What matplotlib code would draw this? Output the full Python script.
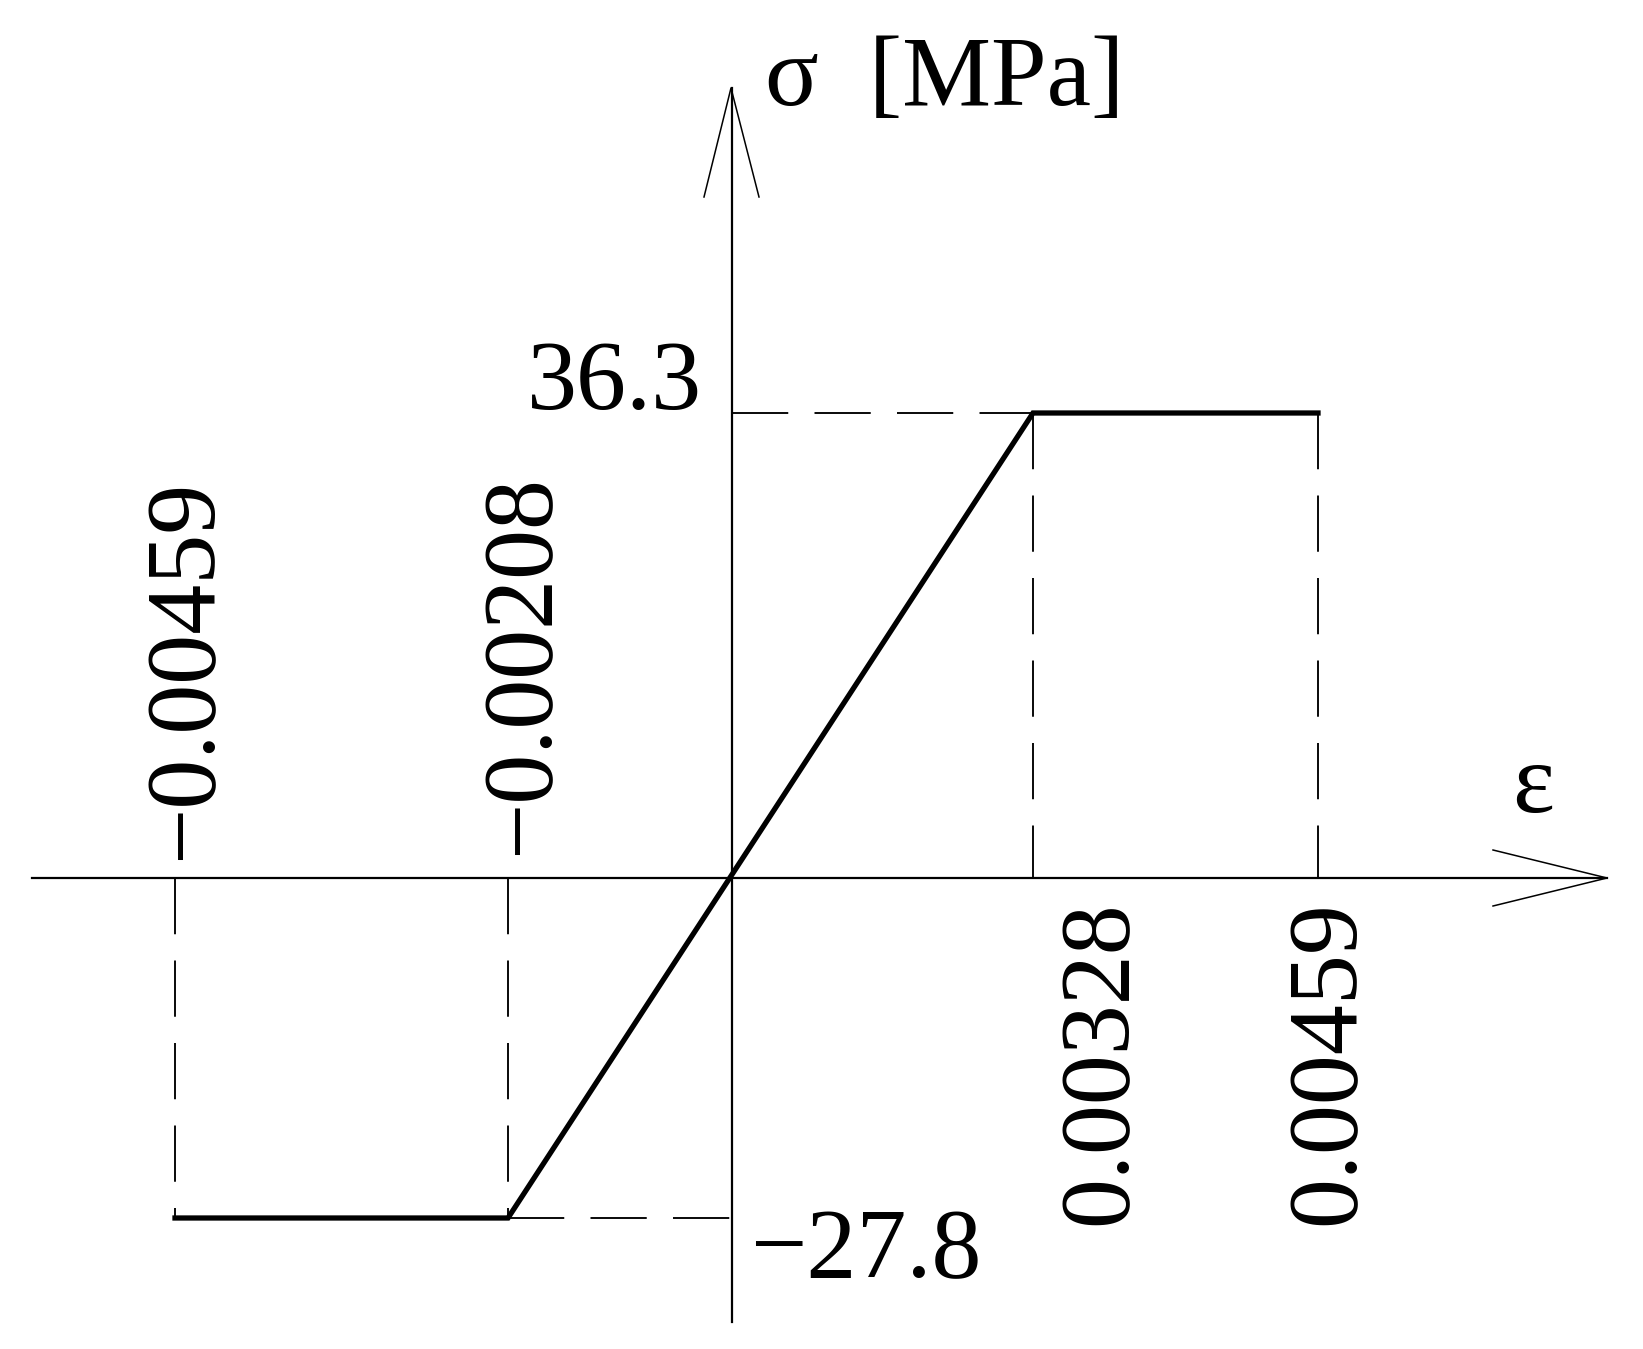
import numpy as np

import matplotlib
matplotlib.use('Agg')
import matplotlib.pyplot as plt
from matplotlib.transforms import Affine2D

# --- data ---
strain_ticks = [-0.00459, -0.00208, 0.0, 0.00328, 0.00459]
stress_ticks = [-27.8, 0.0, 36.3]
curve_strain = [-0.00459, -0.00208, 0.00328, 0.00459]
curve_stress = [-27.8, -27.8, 36.3, 36.3]
strain_labels = ["\u22120.00459", "\u22120.00208", "0.00328", "0.00459"]
stress_labels = ["36.3", "\u221227.8"]

# --- layout (schematic, not to scale) ---
W, H = 1643, 1349
x_px = [175, 508, 732, 1033, 1318]
y_px = [H - 1218, H - 878, H - 413]
FONT = dict(family=['Liberation Serif', 'DejaVu Serif'], fontsize=72, color='black')


def piecewise(src, dst):
    # piecewise linear map with linear extrapolation at both ends
    src = np.asarray(src, float)
    dst = np.asarray(dst, float)
    lo = (dst[1] - dst[0]) / (src[1] - src[0])
    hi = (dst[-1] - dst[-2]) / (src[-1] - src[-2])

    def f(v):
        v = np.asarray(v, float)
        out = np.interp(v, src, dst)
        out = np.where(v < src[0], dst[0] + (v - src[0]) * lo, out)
        out = np.where(v > src[-1], dst[-1] + (v - src[-1]) * hi, out)
        return out
    return f


fig = plt.figure(figsize=(W / 100, H / 100), dpi=100)
ax = fig.add_axes([0, 0, 1, 1])
ax.set_xscale('function', functions=(piecewise(strain_ticks, x_px), piecewise(x_px, strain_ticks)))
ax.set_yscale('function', functions=(piecewise(stress_ticks, y_px), piecewise(y_px, stress_ticks)))
ax.axis('off')

# pixel coords, origin top-left (for decorations only)
pix = Affine2D().scale(1 / W, -1 / H).translate(0, 1) + fig.transFigure

# --- dashed guide lines ---
dash = dict(color='black', lw=1.35, linestyle=(0, (30, 14)))
for x in curve_strain[:2]:
    ax.plot([x, x], [0, curve_stress[0]], **dash)
ax.plot([curve_strain[1], 0], [curve_stress[1]] * 2, **dash)
ax.plot([0, curve_strain[2]], [curve_stress[2]] * 2, **dash)
for x in curve_strain[2:]:
    ax.plot([x, x], [curve_stress[2], 0], **dash)

# --- stress-strain curve ---
ax.plot(curve_strain, curve_stress, color='black', lw=3.8, solid_joinstyle='miter')

# --- axes with open arrow heads ---
ax.axhline(0, xmin=32 / W, xmax=1607 / W, color='black', lw=1.6)
ax.axvline(0, ymin=(H - 1322) / H, ymax=(H - 88) / H, color='black', lw=1.6)
ax.plot([1493, 1607, 1493], [850, 878, 906], transform=pix, color='black', lw=1.1)
ax.plot([704, 731, 759], [197, 88, 197], transform=pix, color='black', lw=1.1)

ax.set_xlim(float(piecewise(x_px, strain_ticks)(0)), float(piecewise(x_px, strain_ticks)(W)))
ax.set_ylim(float(piecewise(y_px, stress_ticks)(0)), float(piecewise(y_px, stress_ticks)(H)))

# --- labels ---
ticks = [strain_ticks[0], strain_ticks[1], strain_ticks[3], strain_ticks[4]]
offsets = [(35, 18), (39, 23), (92, -22), (35, -22)]
has = ['left', 'left', 'right', 'right']
for x, lab, off, ha in zip(ticks, strain_labels, offsets, has):
    ax.annotate(lab, xy=(x, 0), xytext=off, textcoords='offset pixels',
                rotation=90, rotation_mode='anchor', ha=ha, va='baseline', **FONT)

ax.annotate(stress_labels[0], xy=(0, stress_ticks[2]), xytext=(-30, 4), textcoords='offset pixels',
            ha='right', va='baseline', **FONT)
ax.annotate(stress_labels[1], xy=(0, stress_ticks[0]), xytext=(18, -59), textcoords='offset pixels',
            ha='left', va='baseline', **FONT)

ax.text(1533, 812, "\u03b5", transform=pix, ha='center', va='baseline', **FONT)
ax.text(765, 105, "\u03c3  [MPa]", transform=pix, ha='left', va='baseline', **FONT)

fig.savefig("out.png", dpi=100, facecolor='white')
plt.close(fig)
